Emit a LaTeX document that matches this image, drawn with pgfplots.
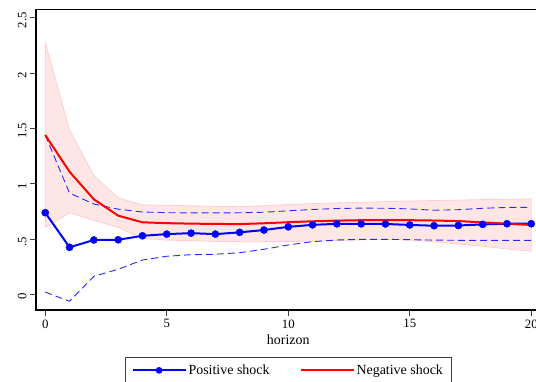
\documentclass[border=0pt]{standalone}
\usepackage{fontspec}
\setmainfont{Liberation Serif}
\usepackage{pgfplots}
\pgfplotsset{compat=1.18}

\definecolor{bandfill}{RGB}{255,230,230}
\definecolor{bandedge}{RGB}{255,205,205}
\definecolor{dashblue}{RGB}{40,40,255}

\begin{document}
\begin{tikzpicture}[x=1bp,y=1bp]
\path[use as bounding box] (0,0) rectangle (536,381);
\clip (0,0) rectangle (536,381);
\begin{axis}[
  at={(36bp,71bp)}, anchor=south west,
  scale only axis, width=504.5bp, height=300.5bp,
  xmin=-0.38, xmax=20.38, ymin=-0.142, ymax=2.575,
  xtick={0,5,10,15,20},
  ytick={0,0.5,1,1.5,2,2.5}, yticklabels={0,.5,1,1.5,2,2.5},
  /pgf/number format/assume math mode=true,
  tick align=outside, tick pos=left,
  major tick length=6bp,
  tick style={black!75, line width=0.8bp},
  axis line style={line width=1.2bp},
  ticklabel style={font=\fontsize{12.8}{14}\selectfont},
  yticklabel style={rotate=90, anchor=south, xshift=-2.5bp},
  xlabel=horizon,
  xlabel style={font=\fontsize{14}{16}\selectfont},
  legend columns=2,
  legend style={at={(0.5,-0.156)}, anchor=north, draw=black!75, line width=0.8bp,
    font=\fontsize{14}{16}\selectfont, inner xsep=6bp, inner ysep=5.5bp,
    /tikz/every even column/.append style={column sep=28bp}},
  legend cell align=left,
]
% confidence band (negative shock)
\addplot[fill=bandfill, draw=bandedge, line width=0.8bp, forget plot] coordinates {
 (0,2.275) (1,1.486) (2,1.072) (3,0.872) (4,0.807) (5,0.805) (6,0.800) (7,0.795)
 (8,0.792) (9,0.800) (10,0.812) (11,0.820) (12,0.826) (13,0.832) (14,0.838)
 (15,0.843) (16,0.848) (17,0.852) (18,0.856) (19,0.859) (20,0.862)
 (20,0.390) (19,0.410) (18,0.435) (17,0.455) (16,0.475) (15,0.490) (14,0.498)
 (13,0.492) (12,0.486) (11,0.480) (10,0.477) (9,0.476) (8,0.476) (7,0.478)
 (6,0.485) (5,0.490) (4,0.505) (3,0.606) (2,0.669) (1,0.738) (0,0.605)
} -- cycle;
% blue dashed bounds
\addplot[dashblue, line width=0.9bp, dash pattern=on 7bp off 4bp, forget plot] coordinates {
 (0,1.44) (1,0.915) (2,0.816) (3,0.770) (4,0.744) (5,0.738) (6,0.736) (7,0.736)
 (8,0.737) (9,0.742) (10,0.755) (11,0.767) (12,0.776) (13,0.779) (14,0.778)
 (15,0.772) (16,0.760) (17,0.765) (18,0.778) (19,0.785) (20,0.787)
};
\addplot[dashblue, line width=0.9bp, dash pattern=on 7bp off 4bp, forget plot] coordinates {
 (0,0.020) (1,-0.063) (2,0.163) (3,0.226) (4,0.310) (5,0.344) (6,0.358) (7,0.362)
 (8,0.376) (9,0.407) (10,0.446) (11,0.476) (12,0.491) (13,0.497) (14,0.497)
 (15,0.494) (16,0.490) (17,0.488) (18,0.488) (19,0.488) (20,0.488)
};
% positive shock (line)
\addplot[blue, line width=2bp,
  legend image code/.code={\draw[blue, line width=2bp] (0bp,0bp) -- (53bp,0bp);
     \fill[blue] (26.5bp,0bp) circle (2.3bp);}] coordinates {
 (0,0.738) (1,0.425) (2,0.491) (3,0.493) (4,0.529) (5,0.544) (6,0.553) (7,0.544)
 (8,0.560) (9,0.581) (10,0.610) (11,0.628) (12,0.637) (13,0.637) (14,0.636)
 (15,0.627) (16,0.620) (17,0.622) (18,0.632) (19,0.638) (20,0.638)
};
\addlegendentry{Positive shock}
% negative shock
\addplot[red, line width=2bp,
  legend image code/.code={\draw[red, line width=2bp] (0bp,0bp) -- (53bp,0bp);}] coordinates {
 (0,1.44) (1,1.108) (2,0.859) (3,0.711) (4,0.651) (5,0.643) (6,0.639) (7,0.636)
 (8,0.635) (9,0.642) (10,0.652) (11,0.660) (12,0.666) (13,0.670) (14,0.671)
 (15,0.670) (16,0.667) (17,0.662) (18,0.650) (19,0.638) (20,0.627)
};
\addlegendentry{Negative shock}
% positive shock markers on top
\addplot[only marks, mark=*, mark size=3.6bp, blue, forget plot] coordinates {
 (0,0.738) (1,0.425) (2,0.491) (3,0.493) (4,0.529) (5,0.544) (6,0.553) (7,0.544)
 (8,0.560) (9,0.581) (10,0.610) (11,0.628) (12,0.637) (13,0.637) (14,0.636)
 (15,0.627) (16,0.620) (17,0.622) (18,0.632) (19,0.638) (20,0.638)
};
\end{axis}
\end{tikzpicture}
\end{document}
